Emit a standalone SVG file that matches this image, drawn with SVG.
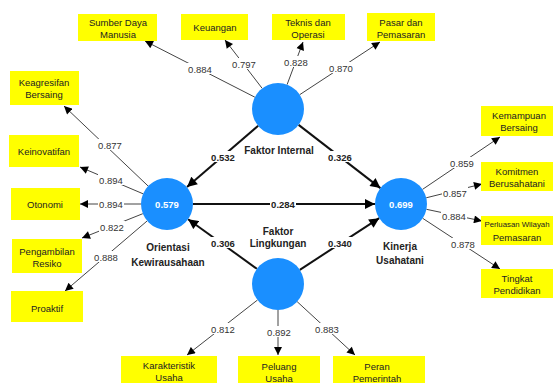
<svg xmlns="http://www.w3.org/2000/svg" width="553" height="383" viewBox="0 0 553 383">
<style>
.box{fill:#ffff00}
.bt{font-family:"Liberation Sans",Arial,sans-serif;font-size:9.5px;fill:#222;text-anchor:middle}
.cir{fill:#1a8fff}
.cv{font-family:"Liberation Sans",Arial,sans-serif;font-size:9.5px;font-weight:bold;fill:#fff;text-anchor:middle}
.cl{font-family:"Liberation Sans",Arial,sans-serif;font-size:10px;font-weight:bold;fill:#222;text-anchor:middle}
.ol{stroke:#444;stroke-width:1;fill:none;marker-end:url(#a1)}
.sl{stroke:#111;stroke-width:2;fill:none;marker-end:url(#a2)}
.lb{fill:#fff}
.lt{font-family:"Liberation Sans",Arial,sans-serif;font-size:9.5px;fill:#333;text-anchor:middle}
.lts{font-family:"Liberation Sans",Arial,sans-serif;font-size:9.5px;font-weight:bold;fill:#222;text-anchor:middle}
</style>
<defs>
<marker id="a1" viewBox="0 0 10 10" refX="10" refY="5" markerUnits="userSpaceOnUse" markerWidth="9" markerHeight="8" orient="auto"><path d="M0,0 L10,5 L0,10 z" fill="#000"/></marker>
<marker id="a2" viewBox="0 0 10 10" refX="10" refY="5" markerUnits="userSpaceOnUse" markerWidth="11" markerHeight="10" orient="auto"><path d="M0,0 L10,5 L0,10 z" fill="#000"/></marker>
</defs>
<rect width="553" height="383" fill="#fff"/>
<g id="connectors">
<line class="ol" x1="254.9" y1="97.2" x2="145" y2="41"/>
<line class="ol" x1="262.2" y1="88.4" x2="225" y2="40"/>
<line class="ol" x1="287.1" y1="84.6" x2="303" y2="42"/>
<line class="ol" x1="299.7" y1="94.7" x2="380" y2="42"/>
<line class="ol" x1="148.2" y1="186.1" x2="64" y2="106"/>
<line class="ol" x1="143.1" y1="193.8" x2="80" y2="167"/>
<line class="ol" x1="141" y1="204" x2="80" y2="204"/>
<line class="ol" x1="142.8" y1="213.7" x2="82" y2="238"/>
<line class="ol" x1="147.2" y1="220.9" x2="65" y2="291"/>
<line class="ol" x1="422.5" y1="189.4" x2="500" y2="137"/>
<line class="ol" x1="426.2" y1="197.8" x2="482" y2="184"/>
<line class="ol" x1="426.4" y1="209.3" x2="482" y2="221"/>
<line class="ol" x1="422.7" y1="218.3" x2="500" y2="269"/>
<line class="ol" x1="257.5" y1="300" x2="187" y2="355"/>
<line class="ol" x1="278" y1="310" x2="278" y2="355"/>
<line class="ol" x1="297.1" y1="301.6" x2="355" y2="355"/>
<line class="sl" x1="258.2" y1="125.8" x2="187" y2="187"/>
<line class="sl" x1="298.6" y1="124.9" x2="380.4" y2="188.1"/>
<line class="sl" x1="193" y1="204" x2="375" y2="204"/>
<line class="sl" x1="256.9" y1="268.8" x2="188.1" y2="219.2"/>
<line class="sl" x1="299.8" y1="269.8" x2="379.2" y2="218.2"/>
<g id="labels">
<rect class="lb" x="187" y="63" width="26" height="11"/><text class="lt" x="200" y="72.5">0.884</text>
<rect class="lb" x="231" y="58" width="26" height="11"/><text class="lt" x="244" y="67.5">0.797</text>
<rect class="lb" x="283" y="56" width="26" height="11"/><text class="lt" x="296" y="65.5">0.828</text>
<rect class="lb" x="328" y="62" width="26" height="11"/><text class="lt" x="341" y="71.5">0.870</text>
<rect class="lb" x="97" y="139" width="26" height="11"/><text class="lt" x="110" y="148.5">0.877</text>
<rect class="lb" x="98" y="174" width="26" height="11"/><text class="lt" x="111" y="183.5">0.894</text>
<rect class="lb" x="98" y="198" width="26" height="11"/><text class="lt" x="111" y="207.5">0.894</text>
<rect class="lb" x="99" y="221" width="26" height="11"/><text class="lt" x="112" y="230.5">0.822</text>
<rect class="lb" x="93" y="251" width="26" height="11"/><text class="lt" x="106" y="260.5">0.888</text>
<rect class="lb" x="449" y="157" width="26" height="11"/><text class="lt" x="462" y="166.5">0.859</text>
<rect class="lb" x="442" y="187" width="26" height="11"/><text class="lt" x="455" y="196.5">0.857</text>
<rect class="lb" x="441" y="210" width="26" height="11"/><text class="lt" x="454" y="219.5">0.884</text>
<rect class="lb" x="450" y="238" width="26" height="11"/><text class="lt" x="463" y="247.5">0.878</text>
<rect class="lb" x="210" y="323" width="26" height="11"/><text class="lt" x="223" y="332.5">0.812</text>
<rect class="lb" x="266" y="326" width="26" height="11"/><text class="lt" x="279" y="335.5">0.892</text>
<rect class="lb" x="314" y="323" width="26" height="11"/><text class="lt" x="327" y="332.5">0.883</text>
<rect class="lb" x="210" y="151" width="26" height="11"/><text class="lts" x="223" y="160.5">0.532</text>
<rect class="lb" x="327" y="151" width="26" height="11"/><text class="lts" x="340" y="160.5">0.326</text>
<rect class="lb" x="270" y="198" width="26" height="11"/><text class="lts" x="283" y="207.5">0.284</text>
<rect class="lb" x="210" y="237" width="26" height="11"/><text class="lts" x="223" y="246.5">0.306</text>
<rect class="lb" x="327" y="237" width="26" height="11"/><text class="lts" x="340" y="246.5">0.340</text>
</g>
</g>
<g id="faktor-internal"><circle class="cir" cx="278" cy="109" r="26"/><text class="cl" x="279" y="154">Faktor Internal</text></g>
<g id="orientasi-kewirausahaan"><circle class="cir" cx="167" cy="204" r="26"/><text class="cv" x="167" y="207.5">0.579</text><text class="cl" x="168" y="251">Orientasi</text><text class="cl" x="168" y="266">Kewirausahaan</text></g>
<g id="kinerja-usahatani"><circle class="cir" cx="401" cy="204" r="26"/><text class="cv" x="401" y="207.5">0.699</text><text class="cl" x="400" y="250">Kinerja</text><text class="cl" x="400" y="264">Usahatani</text></g>
<g id="faktor-lingkungan"><circle class="cir" cx="278" cy="284" r="26"/><text class="cl" x="278" y="235">Faktor</text><text class="cl" x="278" y="247">Lingkungan</text></g>
<g id="sumber-daya-manusia"><rect class="box" x="78" y="14" width="79" height="27"/><text class="bt" x="118" y="25.5">Sumber Daya</text><text class="bt" x="118" y="37.5">Manusia</text></g>
<g id="keuangan"><rect class="box" x="181" y="14" width="67" height="26"/><text class="bt" x="215" y="31">Keuangan</text></g>
<g id="teknis-dan-operasi"><rect class="box" x="272" y="14" width="73" height="26"/><text class="bt" x="308" y="25.5">Teknis dan</text><text class="bt" x="308" y="37.5">Operasi</text></g>
<g id="pasar-dan-pemasaran"><rect class="box" x="367" y="13" width="68" height="28"/><text class="bt" x="401" y="25.5">Pasar dan</text><text class="bt" x="401" y="37.5">Pemasaran</text></g>
<g id="keagresifan-bersaing"><rect class="box" x="10" y="71" width="69" height="34"/><text class="bt" x="44" y="85.5">Keagresifan</text><text class="bt" x="44" y="97.5">Bersaing</text></g>
<g id="keinovatifan"><rect class="box" x="9" y="135" width="70" height="32"/><text class="bt" x="44" y="155">Keinovatifan</text></g>
<g id="otonomi"><rect class="box" x="11" y="188" width="69" height="32"/><text class="bt" x="45" y="207.5">Otonomi</text></g>
<g id="pengambilan-resiko"><rect class="box" x="12" y="239" width="70" height="34"/><text class="bt" x="47" y="254.5">Pengambilan</text><text class="bt" x="47" y="266.5">Resiko</text></g>
<g id="proaktif"><rect class="box" x="11" y="291" width="72" height="31"/><text class="bt" x="47" y="311.5">Proaktif</text></g>
<g id="kemampuan-bersaing"><rect class="box" x="481" y="106" width="72" height="30"/><text class="bt" x="519" y="118.5">Kemampuan</text><text class="bt" x="519" y="130.5">Bersaing</text></g>
<g id="komitmen-berusahatani"><rect class="box" x="481" y="162" width="72" height="29"/><text class="bt" x="517" y="174.5">Komitmen</text><text class="bt" x="517" y="187">Berusahatani</text></g>
<g id="perluasan-wilayah-pemasaran"><rect class="box" x="481" y="216" width="72" height="29"/><text class="bt" x="517" y="226.5" style="font-size:7.8px">Perluasan Wilayah</text><text class="bt" x="517" y="240.5">Pemasaran</text></g>
<g id="tingkat-pendidikan"><rect class="box" x="481" y="269" width="72" height="29"/><text class="bt" x="517" y="281.5">Tingkat</text><text class="bt" x="517" y="293.5">Pendidikan</text></g>
<g id="karakteristik-usaha"><rect class="box" x="121" y="356" width="96" height="28"/><text class="bt" x="169" y="368.5">Karakteristik</text><text class="bt" x="169" y="380.5">Usaha</text></g>
<g id="peluang-usaha"><rect class="box" x="238" y="356" width="82" height="28"/><text class="bt" x="279" y="369.5">Peluang</text><text class="bt" x="279" y="381.5">Usaha</text></g>
<g id="peran-pemerintah"><rect class="box" x="333" y="356" width="92" height="28"/><text class="bt" x="377" y="369.5">Peran</text><text class="bt" x="377" y="381.5">Pemerintah</text></g>
</svg>
